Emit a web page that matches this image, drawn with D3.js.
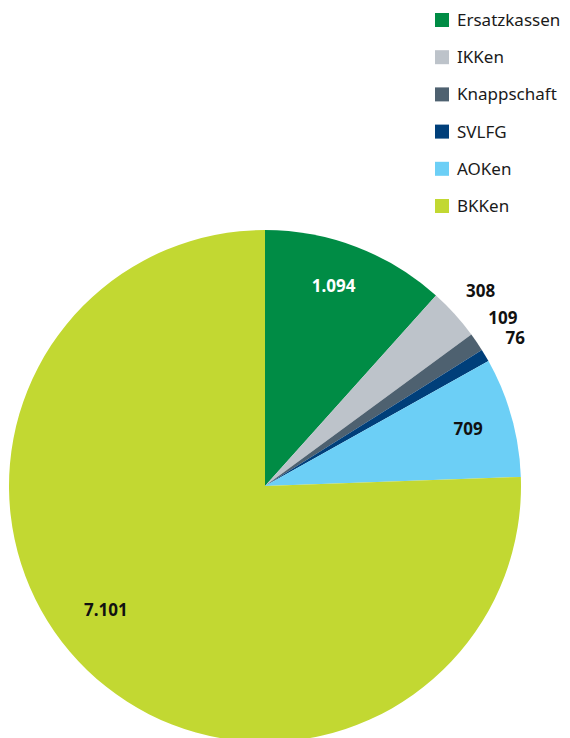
<!DOCTYPE html>
<html>
<head>
<meta charset="utf-8">
<script src="https://cdn.jsdelivr.net/npm/d3@7"></script>
<style>
  html, body { margin: 0; padding: 0; background: #fff; }
  svg { display: block; font-family: "Noto Sans", sans-serif; }
</style>
</head>
<body>
<div id="chart"></div>
<script>
// values, clockwise from 12 o'clock
const names = ["Ersatzkassen", "IKKen", "Knappschaft", "SVLFG", "AOKen", "BKKen"];
const values = [1094, 308, 109, 76, 709, 7101];
const labels = ["1.094", "308", "109", "76", "709", "7.101"];
const colors = ["#008c45", "#bdc3ca", "#4e6170", "#003f7a", "#6ccff6", "#c2d832"];

const width = 570;
const height = 738;
const cx = 265;
const cy = 486;
const radius = 256;

// label placement: inside labels on an inner ring, small slices outside
const outside = [false, true, true, true, false, false];
const labelColor = ["#fff", "#111", "#111", "#111", "#111", "#111"];
const labelNudge = [-2, 0, -1, 0, 0, 8]; // degrees

const data = names.map((name, i) => ({ name, value: values[i], label: labels[i], i }));

const svg = d3.select("#chart")
  .append("svg")
  .attr("width", width)
  .attr("height", height);

const color = d3.scaleOrdinal(names, colors);

const pie = d3.pie().sort(null).value((d) => d.value);
const arc = d3.arc().innerRadius(0).outerRadius(radius);
const arcs = pie(data);

const g = svg.append("g").attr("transform", `translate(${cx},${cy})`);

g.selectAll("path")
  .data(arcs)
  .join("path")
  .attr("fill", (d) => color(d.data.name))
  .attr("d", arc);

function labelPos(d) {
  const r = outside[d.data.i] ? 291 : (d.data.i === 5 ? 202 : 211);
  const a = (d.startAngle + d.endAngle) / 2 + (labelNudge[d.data.i] * Math.PI) / 180;
  return [Math.sin(a) * r, -Math.cos(a) * r];
}

g.selectAll("text.val")
  .data(arcs)
  .join("text")
  .attr("class", "val")
  .attr("transform", (d) => `translate(${labelPos(d)})`)
  .attr("text-anchor", "middle")
  .attr("dy", "0.35em")
  .attr("font-size", 17)
  .attr("font-weight", "bold")
  .attr("fill", (d) => labelColor[d.data.i])
  .text((d) => d.data.label);

// legend
const legend = svg.append("g").attr("transform", "translate(435,20)");
const row = d3.scalePoint(names, [0, 186]);

const item = legend.selectAll("g")
  .data(names)
  .join("g")
  .attr("transform", (d) => `translate(0,${row(d)})`);

item.append("rect")
  .attr("x", 0)
  .attr("y", -7)
  .attr("width", 14)
  .attr("height", 14)
  .attr("fill", (d) => color(d));

item.append("text")
  .attr("x", 22)
  .attr("dy", "0.35em")
  .attr("font-size", 17)
  .attr("fill", "#1a1a1a")
  .text((d) => d);
</script>
</body>
</html>
